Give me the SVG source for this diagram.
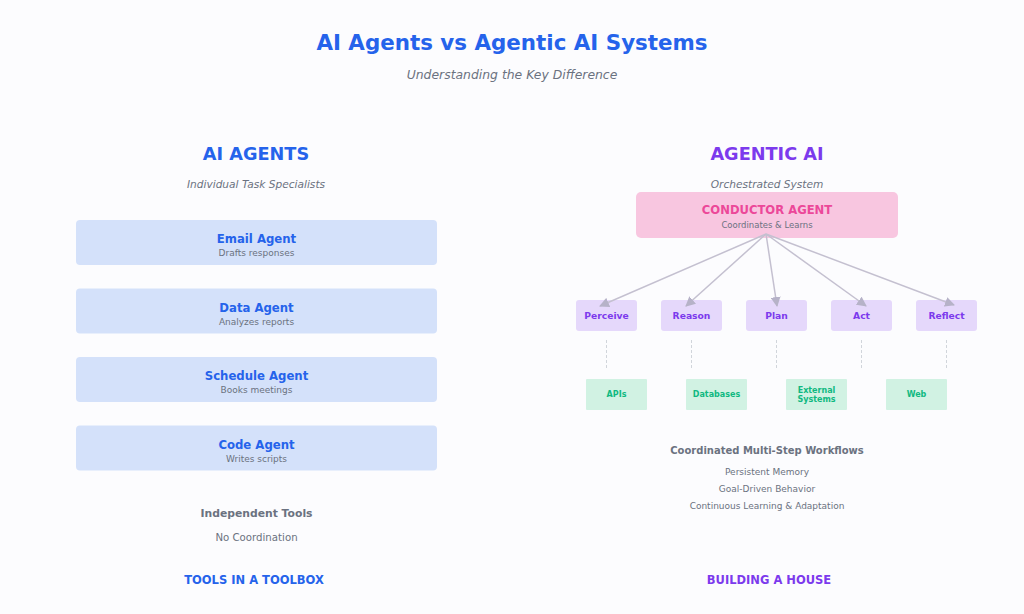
<svg xmlns="http://www.w3.org/2000/svg" width="1024" height="614" viewBox="0 0 1024 614">
<defs>
<marker id="arr" viewBox="0 0 10 10" refX="9" refY="5" markerWidth="10" markerHeight="10" markerUnits="userSpaceOnUse" orient="auto">
<path d="M0,0 L10,5 L0,10 z" fill="#b6b2c8"/>
</marker>
<style>
text{font-family:"DejaVu Sans","Liberation Sans",sans-serif;text-anchor:middle}
.title{font-size:21.4px;font-weight:bold;fill:#2563eb}
.sub{font-size:12.4px;font-style:italic;fill:#6b7280}
.h2b{font-size:17.7px;font-weight:bold;fill:#2563eb}
.h2p{font-size:17.7px;font-weight:bold;fill:#7c3aed}
.it{font-size:10.6px;font-style:italic;fill:#6b7280}
.agent rect{fill:#d4e1fa}
.at{font-size:11.7px;font-weight:bold;fill:#2563eb}
.as{font-size:9px;fill:#6b7280}
.cap rect{fill:#e5d8fb}
.ct{font-size:9.2px;font-weight:bold;fill:#7c3aed}
.tool rect{fill:#d1f2e3}
.tt{font-size:8px;font-weight:bold;fill:#10b981}
.gb{font-size:10.8px;font-weight:bold;fill:#6b7280}
.g{font-size:9px;fill:#6b7280}
.fb{font-size:11.5px;font-weight:bold;fill:#2563eb}
.fp{font-size:11.5px;font-weight:bold;fill:#7c3aed}
.conn{stroke:#c4c0d0;stroke-width:1.5;fill:none}
.dash{stroke:#d1d5db;stroke-width:1;stroke-dasharray:3,2;fill:none}
</style>
</defs>
<rect width="1024" height="614" fill="#fcfcfe"/>
<text class="title" x="512" y="50">AI Agents vs Agentic AI Systems</text>
<text class="sub" x="512" y="79">Understanding the Key Difference</text>

<text class="h2b" x="256" y="160">AI AGENTS</text>
<text class="it" x="256" y="188">Individual Task Specialists</text>

<g id="email-agent" class="agent"><rect x="76" y="220" width="361" height="45" rx="4"/><text class="at" x="256.5" y="243">Email Agent</text><text class="as" x="256.5" y="256">Drafts responses</text></g>
<g id="data-agent" class="agent"><rect x="76" y="288.5" width="361" height="45" rx="4"/><text class="at" x="256.5" y="311.5">Data Agent</text><text class="as" x="256.5" y="324.5">Analyzes reports</text></g>
<g id="schedule-agent" class="agent"><rect x="76" y="357" width="361" height="45" rx="4"/><text class="at" x="256.5" y="380">Schedule Agent</text><text class="as" x="256.5" y="393">Books meetings</text></g>
<g id="code-agent" class="agent"><rect x="76" y="425.5" width="361" height="45" rx="4"/><text class="at" x="256.5" y="448.5">Code Agent</text><text class="as" x="256.5" y="461.5">Writes scripts</text></g>

<text class="gb" x="256.5" y="517">Independent Tools</text>
<text class="g" x="256.5" y="541" style="font-size:10.2px">No Coordination</text>
<text class="fb" x="254" y="584">TOOLS IN A TOOLBOX</text>

<text class="h2p" x="767" y="160">AGENTIC AI</text>
<text class="it" x="767" y="188">Orchestrated System</text>

<g id="conductor"><rect x="636" y="192" width="262" height="46" rx="5" fill="#f8c6e0"/><text x="767" y="214" style="font-size:11.6px;font-weight:bold;fill:#ec4899">CONDUCTOR AGENT</text><text x="767" y="228" style="font-size:8.5px;fill:#6b7280">Coordinates &amp; Learns</text></g>

<g id="perceive" class="cap"><rect x="576" y="300" width="61" height="31" rx="3"/><text class="ct" x="606.5" y="318.5">Perceive</text></g>
<g id="reason" class="cap"><rect x="661" y="300" width="61" height="31" rx="3"/><text class="ct" x="691.5" y="318.5">Reason</text></g>
<g id="plan" class="cap"><rect x="746" y="300" width="61" height="31" rx="3"/><text class="ct" x="776.5" y="318.5">Plan</text></g>
<g id="act" class="cap"><rect x="831" y="300" width="61" height="31" rx="3"/><text class="ct" x="861.5" y="318.5">Act</text></g>
<g id="reflect" class="cap"><rect x="916" y="300" width="61" height="31" rx="3"/><text class="ct" x="946.5" y="318.5">Reflect</text></g>

<g id="apis" class="tool"><rect x="586" y="379" width="61" height="31" rx="1"/><text class="tt" x="616.5" y="397">APIs</text></g>
<g id="databases" class="tool"><rect x="686" y="379" width="61" height="31" rx="1"/><text class="tt" x="716.5" y="397">Databases</text></g>
<g id="external" class="tool"><rect x="786" y="379" width="61" height="31" rx="1"/><text class="tt" x="816.5" y="392.5">External</text><text class="tt" x="816.5" y="401.5">Systems</text></g>
<g id="web" class="tool"><rect x="886" y="379" width="61" height="31" rx="1"/><text class="tt" x="916.5" y="397">Web</text></g>

<g id="connectors">
<line class="conn" x1="766" y1="234" x2="600" y2="306" marker-end="url(#arr)"/>
<line class="conn" x1="766" y1="234" x2="686" y2="306" marker-end="url(#arr)"/>
<line class="conn" x1="766" y1="234" x2="777" y2="306" marker-end="url(#arr)"/>
<line class="conn" x1="766" y1="234" x2="866" y2="306" marker-end="url(#arr)"/>
<line class="conn" x1="766" y1="234" x2="954" y2="305" marker-end="url(#arr)"/>
<line class="dash" x1="606.5" y1="340" x2="606.5" y2="368"/>
<line class="dash" x1="691.5" y1="340" x2="691.5" y2="368"/>
<line class="dash" x1="776.5" y1="340" x2="776.5" y2="368"/>
<line class="dash" x1="861.5" y1="340" x2="861.5" y2="368"/>
<line class="dash" x1="946.5" y1="340" x2="946.5" y2="368"/>
</g>

<text class="gb" x="767" y="454" style="font-size:10px">Coordinated Multi-Step Workflows</text>
<text class="g" x="767" y="475">Persistent Memory</text>
<text class="g" x="767" y="492">Goal-Driven Behavior</text>
<text class="g" x="767" y="509">Continuous Learning &amp; Adaptation</text>
<text class="fp" x="769" y="584">BUILDING A HOUSE</text>
</svg>
